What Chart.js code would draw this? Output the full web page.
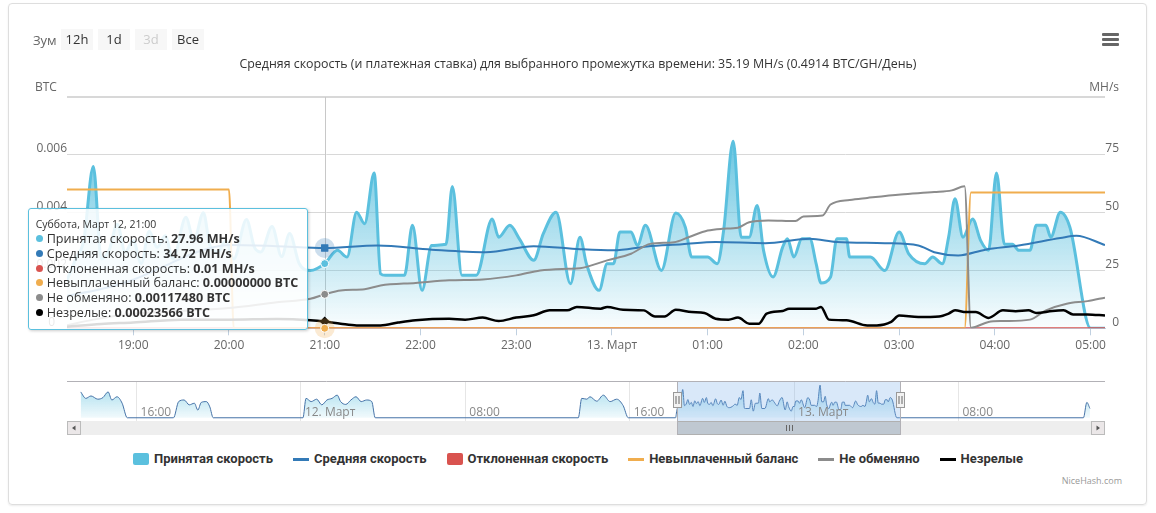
<!DOCTYPE html>
<html lang="ru">
<head>
<meta charset="utf-8">
<title>NiceHash</title>
<script src="https://cdn.jsdelivr.net/npm/chart.js"></script>
<style>
  html, body { margin: 0; padding: 0; background: #fff; }
  body { width: 1156px; height: 513px; position: relative; overflow: hidden; font-family: 'Open Sans', 'DejaVu Sans', sans-serif; }
  #frame { position: absolute; left: 8px; top: 3px; width: 1137px; height: 500px; border: 1px solid #dedede; border-radius: 4px; box-shadow: 0 1px 2px rgba(0,0,0,.08); }
  #main { position: absolute; left: 0; top: 0; }
  #nav { position: absolute; left: 57px; top: 376px; }
  .zoom-label { position: absolute; left: 33px; top: 30px; font-size: 13px; color: #666; line-height: 20px; }
  .rbtn { position: absolute; top: 29px; width: 32px; height: 21px; line-height: 21px; background: #f7f7f7; text-align: center; font-size: 13px; color: #333; }
  .rbtn.off { color: #ccc; }
  #menu { position: absolute; left: 1102px; top: 33px; width: 17px; }
  #menu i { display: block; height: 3px; background: #666; margin-bottom: 2px; border-radius: 1px; }
  #tip { position: absolute; background: rgba(255,255,255,0.86); border: 1px solid #5bc0de; border-radius: 3px; box-shadow: 1px 1px 3px rgba(0,0,0,0.2); padding: 8px 9px 8px 7px; font-size: 12.6px; line-height: 14.8px; color: #333; white-space: nowrap; pointer-events: none; }
  #tip .head { font-size: 10.5px; }
  #tip .dot { display: inline-block; width: 7px; height: 7px; border-radius: 50%; margin-right: 4px; vertical-align: 1px; }
  #legend { position: absolute; left: 0; top: 451px; width: 1156px; display: flex; justify-content: center; gap: 20px; font-family: Roboto, 'Open Sans', sans-serif; font-weight: bold; font-size: 13px; color: #333; line-height: 16px; }
  #legend .item { display: flex; align-items: center; }
  #legend .sq { width: 16px; height: 12px; margin-right: 5px; border-radius: 2px; }
  #legend .ln { width: 16px; height: 3px; margin-right: 5px; }
  #credit { position: absolute; right: 34px; top: 474px; font-size: 9px; color: #999; line-height: 13px; }
</style>
</head>
<body>
<div id="frame"></div>
<canvas id="main" width="1156" height="360"></canvas>
<canvas id="nav" width="1058" height="64"></canvas>
<div class="zoom-label">Зум</div>
<div class="rbtn" style="left:61px">12h</div>
<div class="rbtn" style="left:98px">1d</div>
<div class="rbtn off" style="left:135px">3d</div>
<div class="rbtn" style="left:172px">Все</div>
<div id="menu"><i></i><i></i><i></i></div>
<div id="tip"></div>
<div id="legend"></div>
<div id="credit">NiceHash.com</div>
<script>
const titleText = 'Средняя скорость (и платежная ставка) для выбранного промежутка времени: 35.19 MH/s (0.4914 BTC/GH/День)';
const leftAxisTitle = 'BTC';
const rightAxisTitle = 'MH/s';
const monthName = 'Март';
const weekdays = ['Воскресенье', 'Понедельник', 'Вторник', 'Среда', 'Четверг', 'Пятница', 'Суббота'];
const months = ['Январь', 'Февраль', 'Март', 'Апрель', 'Май', 'Июнь', 'Июль', 'Август', 'Сентябрь', 'Октябрь', 'Ноябрь', 'Декабрь'];

// visible window of the main chart
const viewStart = '18:18';
const viewEnd = '05:09';
const tooltipTime = '21:00';

// Принятая скорость, MH/s
const acceptedTimes = ['18:18','18:24','18:29','18:35','18:40','18:45','18:50','18:55','19:00','19:05','19:10','19:15','19:20','19:25','19:33','19:38','19:44','19:48','19:53','19:58','20:03','20:11','20:16','20:20','20:27','20:33','20:38','20:44','20:51','21:00','21:08','21:14','21:20','21:25','21:31','21:35','21:38','21:50','21:55','22:01','22:07','22:16','22:20','22:26','22:35','22:45','22:49','22:56','23:02','23:11','23:17','23:25','23:34','23:40','23:44','23:52','23:57','00:01','00:05','00:12','00:16','00:21','00:31','00:40','00:46','00:50','01:00','01:06','01:10','01:16','01:21','01:26','01:31','01:35','01:41','01:47','01:50','01:54','01:59','02:04','02:08','02:11','02:17','02:21','02:27','02:29','02:42','02:51','03:00','03:06','03:16','03:21','03:27','03:31','03:35','03:40','03:46','03:51','03:56','04:01','04:06','04:11','04:15','04:22','04:26','04:32','04:35','04:41','04:47','05:00','05:09'];
const acceptedSpeed = [20,30,38,70,30,34,45,33,38,28,42,35,40,30,48,38,50,36,33,38,30,47,35,33,44,31,41,28,25,27.96,33.7,30.8,50.2,45.2,67.1,23.6,22.9,22.9,44.5,16.4,35.8,36.3,61.3,22.9,22.9,47.3,39.4,44.5,38.7,29.4,40.9,50.2,19.3,39.4,27.9,16.4,27.9,27.9,41.6,41.6,35.8,44.5,25.0,49.8,43.7,30.8,30.8,27.9,42.3,80.9,39.4,39.4,53.1,33.7,22.2,35.1,38.7,30.8,38.7,38.7,27.9,19.6,22.2,38.7,38.7,30.8,30.8,25.0,41.6,32.2,27.9,30.8,27.9,39.4,56.0,39.4,47.3,38.0,33.7,67.1,36.3,36.3,33.7,33.7,44.5,44.5,39.4,50.2,43.7,0,0];

// Средняя скорость, MH/s
const averageTimes = ['18:18','18:40','19:00','19:20','19:40','20:00','20:30','21:00','21:33','22:07','22:41','23:11','23:40','00:01','00:22','00:44','01:05','01:36','02:04','02:21','02:51','03:12','03:22','03:37','03:54','04:15','04:41','04:51','05:09'];
const averageSpeed = [14,17,21,27,33,36,35.5,34.72,35.8,34.0,32.9,35.5,34.2,33.7,35.4,36.3,37.3,36.8,38.7,37.3,36.8,35.8,32.9,31.5,34.0,35.8,39,40,36];

// Отклоненная скорость, MH/s
const rejectedTimes = ['18:18','21:00','05:09'];
const rejectedSpeed = [0.01,0.01,0.01];

// Невыплаченный баланс, BTC
const unpaidTimes = ['18:18','20:00','20:03','21:00','03:41','03:45','05:09'];
const unpaidBalance = [0.0048,0.0048,0,0,0,0.0047,0.0047];

// Не обменяно, BTC
const unexchangedTimes = ['18:18','18:35','19:00','19:30','20:00','20:30','20:51','21:00','21:10','21:25','21:35','21:57','22:18','22:39','23:00','23:15','23:32','23:40','23:57','00:12','00:24','00:39','00:48','01:00','01:09','01:19','01:26','01:38','01:55','02:00','02:12','02:17','02:29','02:40','03:01','03:22','03:33','03:41','03:45','03:56','04:05','04:22','04:32','04:45','04:58','05:09'];
const unexchanged = [0.0001,0.0003,0.0005,0.0006,0.0007,0.0009,0.00102,0.0011748,0.00131,0.00135,0.00148,0.00157,0.00166,0.00169,0.00183,0.002,0.00206,0.00208,0.00235,0.00258,0.00292,0.00298,0.00315,0.00338,0.00344,0.00348,0.00367,0.00373,0.00371,0.00387,0.0039,0.00428,0.00444,0.00451,0.00463,0.00471,0.00477,0.00491,0.00002,0.00022,0.00025,0.0003,0.00062,0.00085,0.00094,0.00106];

// Незрелые, BTC
const immatureTimes = ['18:18','18:40','19:00','19:30','20:00','20:30','20:51','21:00','21:10','21:20','21:35','21:46','21:57','22:18','22:28','22:39','22:49','23:00','23:11','23:21','23:32','23:38','23:53','23:57','00:07','00:20','00:27','00:33','00:40','00:50','00:58','01:05','01:13','01:19','01:26','01:32','01:37','01:47','01:51','02:08','02:11','02:16','02:27','02:40','02:46','02:55','03:00','03:12','03:25','03:31','03:35','03:42','03:48','03:56','04:05','04:13','04:21','04:26','04:36','04:43','04:49','04:58','05:09'];
const immature = [0.00005,0.00015,0.0002,0.0003,0.0003,0.00032,0.00028,0.00023566,0.00016,0.0001,0.0001,0.0002,0.00028,0.00033,0.0003,0.00037,0.00025,0.00037,0.00045,0.00062,0.00062,0.00074,0.00068,0.00074,0.00064,0.00062,0.00041,0.00041,0.00064,0.00056,0.00053,0.00033,0.0003,0.00037,0.00016,0.00016,0.00051,0.0006,0.00068,0.00068,0.00074,0.0003,0.00028,0.0001,0.0001,0.00022,0.00044,0.00039,0.00041,0.00051,0.00062,0.00056,0.00056,0.00036,0.00062,0.00059,0.00062,0.00053,0.0006,0.00062,0.00048,0.00048,0.00044];

// navigator: accepted speed outside the visible window ('day hh:mm')
const navStart = '11 12:37';
const navEnd = '13 15:08';
const navTicks = ['11 16:00', '12 00:00', '12 08:00', '12 16:00', '13 00:00', '13 08:00'];
const navBeforeTimes = ['11 13:17','11 13:32','11 13:47','11 14:07','11 14:22','11 14:37','11 14:48','11 15:03','11 15:18','11 15:33','11 17:48','11 18:03','11 18:19','11 18:34','11 18:49','11 18:59','11 19:09','11 19:24','11 19:34','11 19:44','12 00:06','12 00:15','12 00:30','12 00:46','12 01:01','12 01:16','12 01:31','12 01:46','12 01:56','12 02:11','12 02:26','12 02:41','12 02:56','12 03:12','12 03:27','12 03:37','12 13:30','12 13:40','12 13:55','12 14:04','12 14:24','12 14:43','12 15:03','12 15:22','12 15:41','12 15:56','12 18:14'];
const navBeforeSpeed = [64,48,54,46,50,64,44,52,36,0,0,40,44,32,36,19,38,40,27,0,0,48,40,46,32,44,48,56,40,33,44,52,40,44,40,0,0,48,46,52,41,56,40,46,30,0,0];
const navAfterTimes = ['13 14:05','13 14:15','13 14:24'];
const navAfterSpeed = [0,38,23];

function parseTime(s) {
  const [h, m] = s.split(':').map(Number);
  return h * 60 + m + (h < 12 ? 1440 : 0);
}
function parseNavTime(s) {
  const [d, hm] = s.split(' ');
  const [h, m] = hm.split(':').map(Number);
  return (Number(d) - 12) * 1440 + h * 60 + m;
}
function series(times, values) {
  return times.map((t, i) => ({ x: parseTime(t), y: values[i] }));
}
function pad(n) { return String(n).padStart(2, '0'); }
function hhmm(mins) {
  const m = ((mins % 1440) + 1440) % 1440;
  return pad(Math.floor(m / 60)) + ':' + pad(Math.round(m % 60));
}
function tickLabel(mins) {
  if (mins % 1440 === 0) return (12 + mins / 1440) + '. ' + monthName;
  return hhmm(mins);
}
function headerFor(mins) {
  const d = new Date(Date.UTC(2016, 2, 12) + mins * 60000);
  return weekdays[d.getUTCDay()] + ', ' + months[d.getUTCMonth()] + ' ' + d.getUTCDate() + ', ' + pad(d.getUTCHours()) + ':' + pad(d.getUTCMinutes());
}

const FONT = "'Open Sans', 'DejaVu Sans', sans-serif";
Chart.defaults.font.family = FONT;
Chart.defaults.font.size = 12;
Chart.defaults.color = '#666';

function acceptedFill(context) {
  const chart = context.chart;
  const area = chart.chartArea;
  if (!area) return 'rgba(91,192,222,0.3)';
  const top = chart.scales.yR.getPixelForValue(Math.max(...acceptedSpeed));
  const g = chart.ctx.createLinearGradient(0, top, 0, area.bottom);
  g.addColorStop(0, 'rgba(91,192,222,0.9)');
  g.addColorStop(1, 'rgba(91,192,222,0.03)');
  return g;
}

function externalTooltip(context) {
  const { chart, tooltip } = context;
  const el = document.getElementById('tip');
  if (tooltip.opacity === 0 || !tooltip.dataPoints) { el.style.opacity = 0; return; }
  const pts = tooltip.dataPoints;
  let html = '<div class="head">' + headerFor(pts[0].parsed.x) + '</div>';
  pts.forEach(p => {
    const ds = p.dataset;
    html += '<div><span class="dot" style="background:' + ds.borderColor + '"></span>' +
      ds.label + ': <b>' + p.parsed.y.toFixed(ds.decimals) + ' ' + ds.unit + '</b></div>';
  });
  el.innerHTML = html;
  el.style.opacity = 1;
  el.style.left = (chart.canvas.offsetLeft + tooltip.caretX - el.offsetWidth - 16) + 'px';
  el.style.top = (chart.canvas.offsetTop + chart.chartArea.bottom + 2 - el.offsetHeight) + 'px';
}

const axisTitles = {
  id: 'axisTitles',
  afterDraw(chart) {
    const { ctx, scales, chartArea } = chart;
    ctx.save();
    ctx.font = '12px ' + FONT;
    ctx.fillStyle = '#666';
    ctx.textBaseline = 'middle';
    ctx.textAlign = 'left';
    ctx.fillText(leftAxisTitle, scales.y.left - 2, chartArea.top - 9);
    ctx.textAlign = 'right';
    ctx.fillText(rightAxisTitle, scales.yR.right, chartArea.top - 9);
    ctx.restore();
  }
};

const crosshair = {
  id: 'crosshair',
  beforeDatasetsDraw(chart) {
    const active = chart.getActiveElements();
    if (!active.length) return;
    const { ctx, chartArea } = chart;
    const x = Math.round(active[0].element.x) + 0.5;
    ctx.save();
    ctx.strokeStyle = '#c8c8c8';
    ctx.lineWidth = 1;
    ctx.beginPath();
    ctx.moveTo(x, chartArea.top);
    ctx.lineTo(x, chartArea.bottom);
    ctx.stroke();
    ctx.restore();
  }
};

const halos = {
  id: 'halos',
  afterDatasetsDraw(chart) {
    const { ctx, chartArea } = chart;
    chart.getActiveElements().forEach(a => {
      const ds = chart.data.datasets[a.datasetIndex];
      if (!ds.halo) return;
      ctx.save();
      ctx.globalAlpha = 0.25;
      ctx.fillStyle = ds.borderColor;
      ctx.beginPath();
      ctx.arc(a.element.x, a.element.y, 10, 0, Math.PI * 2);
      ctx.fill();
      ctx.restore();
      a.element.draw(ctx, chartArea);
    });
  }
};

const mainChart = new Chart(document.getElementById('main'), {
  type: 'line',
  data: {
    datasets: [
      {
        label: 'Принятая скорость', data: series(acceptedTimes, acceptedSpeed), yAxisID: 'yR',
        borderColor: '#5bc0de', borderWidth: 3, backgroundColor: acceptedFill, fill: 'origin',
        pointRadius: 0, pointHoverRadius: 4, pointHoverBackgroundColor: '#5bc0de', pointHoverBorderColor: '#fff', pointHoverBorderWidth: 1,
        cubicInterpolationMode: 'monotone', order: 6, unit: 'MH/s', decimals: 2, legendSymbol: 'square'
      },
      {
        label: 'Средняя скорость', data: series(averageTimes, averageSpeed), yAxisID: 'yR',
        borderColor: '#337ab7', borderWidth: 2, fill: false,
        pointRadius: 0, pointStyle: 'rect', pointHoverRadius: 5, pointHoverBackgroundColor: '#337ab7', pointHoverBorderWidth: 0,
        cubicInterpolationMode: 'monotone', order: 5, unit: 'MH/s', decimals: 2, halo: true, legendSymbol: 'line'
      },
      {
        label: 'Отклоненная скорость', data: series(rejectedTimes, rejectedSpeed), yAxisID: 'yR',
        borderColor: '#d9534f', borderWidth: 2, fill: false,
        pointRadius: 0, pointHoverRadius: 3, pointHoverBackgroundColor: '#d9534f', pointHoverBorderColor: '#fff', pointHoverBorderWidth: 1,
        order: 4, unit: 'MH/s', decimals: 2, legendSymbol: 'square'
      },
      {
        label: 'Невыплаченный баланс', data: series(unpaidTimes, unpaidBalance), yAxisID: 'y',
        borderColor: '#f0ad4e', borderWidth: 2, fill: false,
        pointRadius: 0, pointHoverRadius: 4, pointHoverBackgroundColor: '#f0ad4e', pointHoverBorderColor: '#fff', pointHoverBorderWidth: 1,
        cubicInterpolationMode: 'monotone', order: 3, unit: 'BTC', decimals: 8, halo: true, legendSymbol: 'line'
      },
      {
        label: 'Не обменяно', data: series(unexchangedTimes, unexchanged), yAxisID: 'y',
        borderColor: '#8c8c8c', borderWidth: 2, fill: false,
        pointRadius: 0, pointHoverRadius: 4, pointHoverBackgroundColor: '#8c8c8c', pointHoverBorderColor: '#fff', pointHoverBorderWidth: 1,
        cubicInterpolationMode: 'monotone', order: 2, unit: 'BTC', decimals: 8, legendSymbol: 'line'
      },
      {
        label: 'Незрелые', data: series(immatureTimes, immature), yAxisID: 'y',
        borderColor: '#000000', borderWidth: 2.5, fill: false,
        pointRadius: 0, pointStyle: 'rectRot', pointHoverRadius: 5, pointHoverBackgroundColor: '#000', pointHoverBorderWidth: 0,
        cubicInterpolationMode: 'monotone', order: 1, unit: 'BTC', decimals: 8, legendSymbol: 'line'
      }
    ]
  },
  options: {
    responsive: false,
    animation: false,
    events: [],
    layout: { padding: { left: 37, right: 37, top: 0, bottom: 0 } },
    plugins: {
      legend: { display: false },
      title: {
        display: true, text: titleText, color: '#333',
        font: { size: 12.4, weight: 'normal' },
        padding: { top: 56.6, bottom: 25.5 }
      },
      tooltip: { enabled: false, external: externalTooltip }
    },
    scales: {
      x: {
        type: 'linear',
        min: parseTime(viewStart) + 0.5,
        max: parseTime(viewEnd),
        ticks: { stepSize: 60, includeBounds: false, autoSkip: false, maxRotation: 0, maxTicksLimit: 30, padding: 3, color: '#666', callback: v => tickLabel(v) },
        grid: { drawOnChartArea: false, drawTicks: true, tickLength: 7, color: '#C0D0E0' },
        border: { color: '#C0D0E0' },
        afterFit: s => { s.height = 31.7; }
      },
      y: {
        position: 'left', min: 0, max: 0.008,
        ticks: {
          stepSize: 0.002, padding: 0, crossAlign: 'center', labelOffset: -6, color: '#666',
          callback: v => v >= 0.0079 ? '' : (v === 0 ? '0' : String(+v.toFixed(3)))
        },
        grid: { color: '#D8D8D8', drawTicks: false, lineWidth: c => (c.tick && c.tick.value >= 0.0079 ? 2 : 1) },
        border: { display: false },
        afterFit: s => { s.width = 30; }
      },
      yR: {
        position: 'right', min: 0, max: 100,
        ticks: { stepSize: 25, padding: 0, crossAlign: 'far', labelOffset: -6, color: '#666', callback: v => v >= 100 ? '' : String(v) },
        grid: { drawOnChartArea: false, drawTicks: false },
        border: { display: false },
        afterFit: s => { s.width = 14; }
      }
    }
  },
  plugins: [axisTitles, crosshair, halos]
});

// show the shared tooltip at 21:00
const activeX = parseTime(tooltipTime);
const activePoints = mainChart.data.datasets.map((ds, i) => ({
  datasetIndex: i,
  index: ds.data.findIndex(p => p.x === activeX)
}));
mainChart.setActiveElements(activePoints);
mainChart.tooltip.setActiveElements(activePoints, { x: 0, y: 0 });
mainChart.update();

// navigator
const navPoints = navBeforeTimes.map((t, i) => ({ x: parseNavTime(t), y: navBeforeSpeed[i] }))
  .concat(series(acceptedTimes, acceptedSpeed))
  .concat(navAfterTimes.map((t, i) => ({ x: parseNavTime(t), y: navAfterSpeed[i] })));

function navFill(context) {
  const area = context.chart.chartArea;
  if (!area) return 'rgba(91,192,222,0.3)';
  const g = context.chart.ctx.createLinearGradient(0, area.top, 0, area.bottom);
  g.addColorStop(0, 'rgba(91,192,222,0.6)');
  g.addColorStop(1, 'rgba(91,192,222,0.04)');
  return g;
}

const navigatorDecor = {
  id: 'navigatorDecor',
  afterDatasetsDraw(chart) {
    const { ctx, chartArea: a, scales: { x } } = chart;
    const l = Math.round(x.getPixelForValue(mainChart.scales.x.min)) + 0.5;
    const r = Math.round(x.getPixelForValue(mainChart.scales.x.max)) + 0.5;
    const sy = a.bottom, sh = 14;
    ctx.save();
    // selected range
    ctx.fillStyle = 'rgba(128,179,236,0.3)';
    ctx.fillRect(l, a.top, r - l, a.bottom - a.top);
    // axis labels
    ctx.font = '12px ' + FONT;
    ctx.fillStyle = '#888';
    ctx.textBaseline = 'middle';
    ctx.textAlign = 'left';
    x.ticks.forEach(t => ctx.fillText(tickLabel(t.value), x.getPixelForValue(t.value) + 4, a.bottom - 8.5));
    // scrollbar track
    ctx.fillStyle = '#eeeeee';
    ctx.fillRect(a.left, sy, a.right - a.left, sh);
    // thumb
    ctx.fillStyle = '#bfc8d1';
    ctx.strokeStyle = '#b0b0b0';
    ctx.lineWidth = 1;
    ctx.fillRect(l, sy, r - l, sh);
    ctx.strokeRect(l, sy + 0.5, r - l, sh - 1);
    const cx = Math.round((l + r) / 2) + 0.5;
    ctx.strokeStyle = '#666';
    ctx.beginPath();
    [-3, 0, 3].forEach(d => { ctx.moveTo(cx + d, sy + 4); ctx.lineTo(cx + d, sy + 10); });
    ctx.stroke();
    // buttons
    [[a.left, -1], [a.right - 14, 1]].forEach(([bx, dir]) => {
      ctx.fillStyle = '#ebe7e8';
      ctx.strokeStyle = '#bbbbbb';
      ctx.fillRect(bx, sy, 14, sh);
      ctx.strokeRect(bx + 0.5, sy + 0.5, 13, sh - 1);
      ctx.fillStyle = '#555';
      ctx.beginPath();
      const mx = bx + 7;
      ctx.moveTo(mx + 2 * dir, sy + 7);
      ctx.lineTo(mx - 1.5 * dir, sy + 4.5);
      ctx.lineTo(mx - 1.5 * dir, sy + 9.5);
      ctx.closePath();
      ctx.fill();
    });
    // outline
    ctx.strokeStyle = '#b2b1b6';
    ctx.beginPath();
    ctx.moveTo(a.left, a.top + 0.5);
    ctx.lineTo(a.right, a.top + 0.5);
    ctx.moveTo(l, a.top);
    ctx.lineTo(l, sy + sh);
    ctx.moveTo(r, a.top);
    ctx.lineTo(r, sy + sh);
    ctx.stroke();
    // handles
    [l, r].forEach(hx => {
      ctx.fillStyle = '#f2f2f2';
      ctx.strokeStyle = '#999';
      ctx.fillRect(hx - 4, a.top + 11, 8, 16);
      ctx.strokeRect(hx - 4, a.top + 11.5, 8, 15);
      ctx.beginPath();
      ctx.moveTo(hx - 1.5, a.top + 15);
      ctx.lineTo(hx - 1.5, a.top + 23);
      ctx.moveTo(hx + 1.5, a.top + 15);
      ctx.lineTo(hx + 1.5, a.top + 23);
      ctx.strokeStyle = '#666';
      ctx.stroke();
    });
    ctx.restore();
  }
};

new Chart(document.getElementById('nav'), {
  type: 'line',
  data: {
    datasets: [{
      data: navPoints, borderColor: '#4572a7', borderWidth: 1, pointRadius: 0,
      fill: 'origin', backgroundColor: navFill, cubicInterpolationMode: 'monotone'
    }]
  },
  options: {
    responsive: false,
    animation: false,
    events: [],
    layout: { padding: { left: 10, right: 10, top: 5, bottom: 19 } },
    plugins: { legend: { display: false }, tooltip: { enabled: false } },
    scales: {
      x: {
        type: 'linear', min: parseNavTime(navStart), max: parseNavTime(navEnd),
        ticks: { display: false },
        afterBuildTicks: s => { s.ticks = navTicks.map(t => ({ value: parseNavTime(t) })); },
        grid: { color: '#e6e6e6', drawTicks: false },
        border: { display: false }
      },
      y: { display: false, min: -8, max: 91 }
    }
  },
  plugins: [navigatorDecor]
});

// legend
const legendEl = document.getElementById('legend');
mainChart.data.datasets.forEach(ds => {
  const item = document.createElement('span');
  item.className = 'item';
  const sym = document.createElement('i');
  sym.className = ds.legendSymbol === 'square' ? 'sq' : 'ln';
  sym.style.background = ds.borderColor;
  item.appendChild(sym);
  item.appendChild(document.createTextNode(ds.label));
  legendEl.appendChild(item);
});
</script>
</body>
</html>
